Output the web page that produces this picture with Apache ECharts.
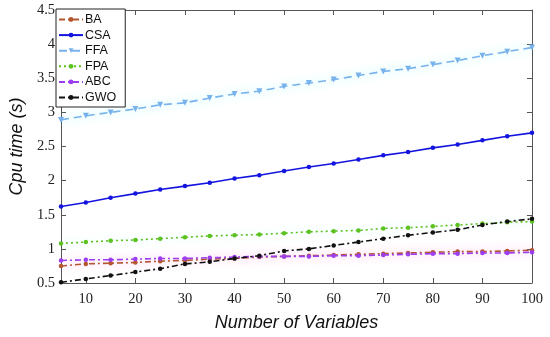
<!DOCTYPE html>
<html>
<head>
<meta charset="utf-8">
<script src="https://cdn.jsdelivr.net/npm/echarts@6/dist/echarts.min.js"></script>
<style>html,body{margin:0;padding:0;background:#fff}#c{width:550px;height:337px}</style>
</head>
<body>
<div id="c"></div>
<script>
var categories = ['5','10','15','20','25','30','35','40','45','50','55','60','65','70','75','80','85','90','95','100'];
var BA  = [0.75,0.78,0.79,0.80,0.82,0.83,0.85,0.86,0.88,0.89,0.90,0.91,0.92,0.93,0.94,0.95,0.96,0.96,0.97,0.98];
var CSA = [1.62,1.68,1.75,1.81,1.87,1.92,1.97,2.03,2.08,2.14,2.20,2.25,2.31,2.37,2.42,2.48,2.53,2.59,2.65,2.70];
var FFA = [2.89,2.95,3.00,3.05,3.11,3.14,3.21,3.27,3.31,3.38,3.43,3.48,3.54,3.60,3.64,3.70,3.76,3.83,3.89,3.95];
var FPA = [1.08,1.10,1.12,1.13,1.15,1.17,1.19,1.20,1.21,1.23,1.25,1.26,1.27,1.30,1.31,1.33,1.35,1.37,1.39,1.40];
var ABC = [0.83,0.84,0.84,0.85,0.86,0.86,0.87,0.88,0.89,0.89,0.89,0.90,0.90,0.91,0.92,0.93,0.93,0.94,0.94,0.95];
var GWO = [0.51,0.56,0.61,0.66,0.71,0.78,0.81,0.86,0.90,0.97,1.00,1.05,1.10,1.15,1.20,1.24,1.28,1.35,1.40,1.44];
var yMin = 0.5, yMax = 4.5, yStep = 0.5;

var chart = echarts.init(document.getElementById('c'), null, {renderer: 'canvas'});
var serif = '"Liberation Serif", "Times New Roman", serif';
var sans = '"Liberation Sans", Arial, sans-serif';
var frame = '#555';
function oddIdx(i){ return i % 2 === 1; }

function mk(name, data, color, dash, symbol, rot, glow){
  return {
    name: name, type: 'line', data: data,
    xAxisIndex: 0, yAxisIndex: 0,
    symbol: symbol, symbolSize: symbol === 'triangle' ? 6 : 4.5, symbolRotate: rot || 0,
    itemStyle: {color: color},
    lineStyle: {color: color, width: 1.6, type: dash,
      shadowColor: glow || 'rgba(0,0,0,0)', shadowBlur: glow ? 10 : 0},
    emphasis: {disabled: true},
    z: 3
  };
}

chart.setOption({
  animation: false,
  backgroundColor: '#fff',
  grid: {left: 56, right: 18, top: 10, bottom: 52, containLabel: false},
  legend: {
    orient: 'vertical', left: 56, top: 9,
    backgroundColor: '#fff', borderColor: '#222', borderWidth: 1,
    padding: [4, 9, 3, 2], itemGap: 2.6, itemWidth: 24, itemHeight: 6,
    textStyle: {fontFamily: sans, fontSize: 12.5, lineHeight: 12, color: '#111', padding: [0,0,0,-3]},
    data: ['BA','CSA','FFA','FPA','ABC','GWO']
  },
  xAxis: [{
    type: 'category', data: categories, boundaryGap: false, position: 'bottom',
    axisLine: {lineStyle: {color: frame, width: 1}},
    axisTick: {inside: true, length: 5, interval: oddIdx, lineStyle: {color: frame}},
    axisLabel: {interval: oddIdx, fontFamily: serif, fontSize: 14.5, color: '#222', margin: 9},
    splitLine: {show: false},
    name: 'Number of Variables', nameLocation: 'middle', nameGap: 31,
    nameTextStyle: {fontFamily: sans, fontStyle: 'italic', fontSize: 18, color: '#111'}
  }, {
    type: 'category', data: categories, boundaryGap: false, position: 'top',
    axisLine: {lineStyle: {color: frame, width: 1}},
    axisTick: {inside: true, length: 5, interval: oddIdx, lineStyle: {color: frame}},
    axisLabel: {show: false}, splitLine: {show: false}
  }],
  yAxis: [{
    type: 'value', min: yMin, max: yMax, interval: yStep, position: 'left',
    axisLine: {show: true, lineStyle: {color: frame, width: 1}},
    axisTick: {show: true, inside: true, length: 5, lineStyle: {color: frame}},
    axisLabel: {fontFamily: serif, fontSize: 14.5, color: '#222', margin: 6},
    splitLine: {show: false},
    name: 'Cpu time (s)', nameLocation: 'middle', nameGap: 30,
    nameTextStyle: {fontFamily: sans, fontStyle: 'italic', fontSize: 18, color: '#111'}
  }, {
    type: 'value', min: yMin, max: yMax, interval: yStep, position: 'right',
    axisLine: {show: true, lineStyle: {color: frame, width: 1}},
    axisTick: {show: true, inside: true, length: 5, lineStyle: {color: frame}},
    axisLabel: {show: false}, splitLine: {show: false}
  }],
  series: [
    mk('BA',  BA,  '#B4562E', [6,3,2,3], 'circle', 0, 'rgba(255,80,200,0.45)'),
    mk('CSA', CSA, '#1414E0', 'solid', 'circle', 0, null),
    mk('FFA', FFA, '#78B2EC', [8,5], 'triangle', 180, 'rgba(0,240,240,0.55)'),
    mk('FPA', FPA, '#5CC222', [2,3], 'circle', 0, 'rgba(0,240,240,0.35)'),
    mk('ABC', ABC, '#9B3DF0', [6,3,2,3], 'circle', 0, 'rgba(255,80,220,0.45)'),
    mk('GWO', GWO, '#111111', [6,3,2,3], 'circle', 0, null)
  ]
});
</script>
</body>
</html>
